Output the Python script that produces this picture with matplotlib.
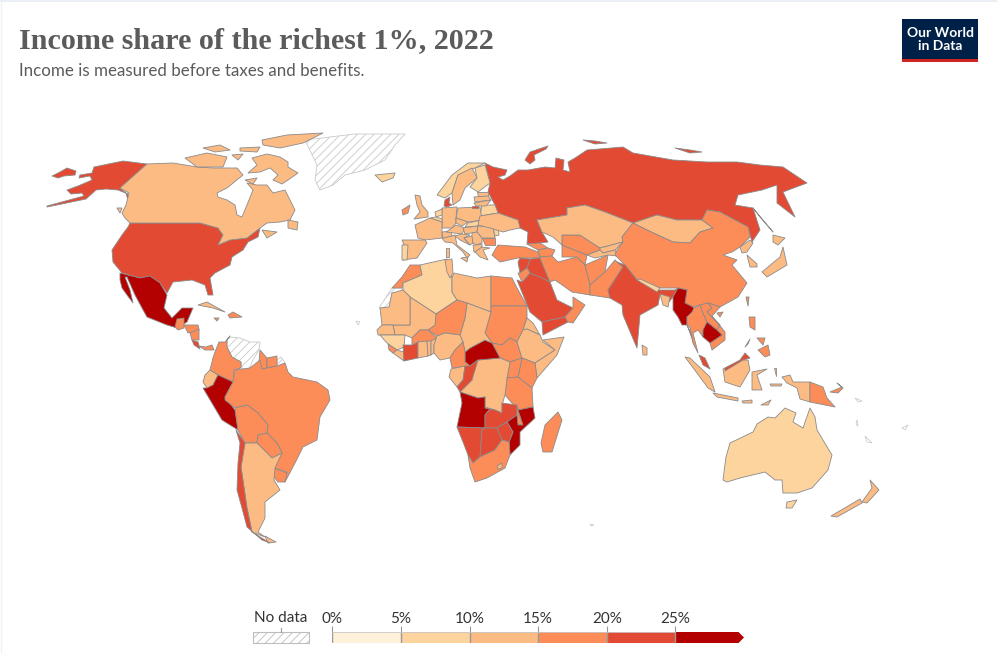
import matplotlib
matplotlib.use("Agg")
import matplotlib.pyplot as plt
import matplotlib.patches as patches
from matplotlib.colors import BoundaryNorm, ListedColormap

plt.rcParams['font.family'] = ['Lato', 'DejaVu Sans']
plt.rcParams['hatch.linewidth'] = 0.6

# income share of the top 1% (estimates inside each bin)
bin_edges = [0, 5, 10, 15, 20, 25, 100]
bin_colors = ['#fef0d9', '#fdd49e', '#fdbb84', '#fc8d59', '#e34a33', '#b30000']
legend_ticks = [0, 5, 10, 15, 20, 25]

shares = {
    'Russia': 21.5, 'Chukotka': 21.5, 'Alaska': 20.8, 'USA': 20.8, 'Canada': 13.5, 'Mexico': 26.8,
    'Guatemala': 16.5, 'Honduras': 16.0, 'Nicaragua': 17.0, 'CostaRica': 21.0, 'Panama': 17.5,
    'Cuba': 13.0, 'Hispaniola': 17.0, 'Jamaica': 16.0,
    'Colombia': 18.0, 'Guyana': 17.0, 'Suriname': 17.0, 'Ecuador': 13.5, 'Peru': 26.5, 'Brazil': 19.5,
    'Uruguay': 16.5, 'Bolivia': 17.0, 'Paraguay': 18.0, 'Argentina': 14.0, 'Chile': 23.5,
    'Iceland': 9.5, 'UK': 12.7, 'Ireland': 15.5, 'Norway': 9.5, 'Sweden': 11.0, 'Finland': 9.8, 'Denmark': 20.5,
    'Belarus': 9.5, 'Poland': 13.0, 'Kaliningrad': 21.5, 'Germany': 12.8, 'Netherlands': 7.5, 'Belgium': 9.5,
    'France': 11.0, 'Spain': 12.0, 'Portugal': 9.8, 'Italy': 11.0, 'Switzerland': 11.5, 'Austria': 10.5,
    'Czechia': 11.0, 'Slovakia': 9.8, 'Hungary': 11.0, 'Romania': 11.5, 'Moldova': 9.0, 'Bulgaria': 16.0,
    'Croatia': 11.0, 'Bosnia': 11.0, 'Serbia': 11.0, 'Albania': 10.5, 'Greece': 11.0, 'Ukraine': 11.0,
    'Estonia': 12.0, 'Latvia': 12.0, 'Lithuania': 12.0, 'Turkey': 18.5, 'Georgia': 17.0, 'Azerbaijan': 18.0,
    'Morocco': 17.0, 'Algeria': 9.5, 'Tunisia': 11.0, 'Libya': 11.0, 'Egypt': 18.0, 'Sudan': 17.0, 'SouthSudan': 18.0,
    'Eritrea': 11.0, 'Ethiopia': 13.5, 'Somalia': 13.0, 'Kenya': 17.0, 'Uganda': 16.0, 'Tanzania': 16.5,
    'DRC': 14.5, 'CAR': 31.0, 'Chad': 14.0, 'Niger': 15.5, 'Mali': 13.0, 'Mauritania': 12.5, 'Senegal': 12.5,
    'Guinea': 9.0, 'SierraLeone': 16.0, 'Liberia': 12.0, 'IvoryCoast': 21.0, 'Burkina': 17.0, 'Ghana': 14.0,
    'Togo': 13.0, 'Benin': 13.0, 'Nigeria': 12.0, 'Cameroon': 17.0, 'Gabon': 13.5, 'Congo': 21.0,
    'Angola': 27.5, 'Zambia': 22.0, 'Malawi': 18.5, 'Mozambique': 26.0, 'Zimbabwe': 21.0, 'Namibia': 21.5,
    'Botswana': 22.0, 'SouthAfrica': 18.5, 'Lesotho': 13.0, 'Madagascar': 17.0,
    'Saudi': 20.8, 'Yemen': 21.5, 'Oman': 18.0, 'Iraq': 21.5, 'Syria': 22.5, 'Jordan': 17.0, 'Iran': 18.0,
    'Afghanistan': 16.0, 'Pakistan': 17.0, 'Turkmenistan': 16.5, 'Uzbekistan': 16.5, 'Kazakhstan': 14.0,
    'Kyrgyzstan': 13.0, 'Tajikistan': 14.0, 'Mongolia': 14.0, 'China': 15.7, 'India': 21.7, 'Nepal': 9.5,
    'Bangladesh': 12.0, 'Myanmar': 28.0, 'Thailand': 17.0, 'Laos': 17.0, 'Vietnam': 17.5, 'Cambodia': 27.0,
    'Malaya': 23.0, 'Sumatra': 13.5, 'Java': 13.5, 'Kalimantan': 13.5, 'Sarawak': 23.0, 'Sulawesi': 13.5,
    'Flores': 13.5, 'Moluccas': 13.5, 'Papua': 13.5, 'PNG': 17.0, 'NewBritain': 18.0, 'Luzon': 17.0, 'Mindanao': 17.0,
    'Palawan': 17.0, 'Taiwan': 17.0, 'Hainan': 16.0, 'SriLanka': 14.0, 'Australia': 9.5, 'Tasmania': 9.5,
    'NZNorth': 12.5, 'NZSouth': 12.5, 'Japan': 12.8, 'NorthKorea': 14.0, 'SouthKorea': 14.0,
}

# outlines in map units (the map is laid out on a 997 x 653 grid)
outlines = {
    'Russia': [
        [(485, 163), (493, 167), (507, 170), (505, 175), (498, 177), (503, 180), (510, 176), (518, 170), (528, 170),
         (545, 167), (555, 168), (556, 158), (564, 160), (563, 170), (570, 172), (568, 162), (575, 158), (587, 150),
         (623, 147), (633, 153), (673, 160), (707, 162), (737, 162), (760, 165), (783, 167), (807, 183),
         (783, 192), (795, 217), (777, 203), (777, 185), (762, 190), (738, 195), (735, 205), (753, 208), (760, 230),
         (752, 242), (748, 227), (720, 212), (707, 210), (702, 220), (677, 220), (657, 215), (633, 223), (605, 212),
         (585, 205), (567, 208), (567, 215), (537, 220), (542, 232), (548, 242), (540, 243), (527, 244), (528, 232), (520, 228),
         (518, 220), (498, 213), (495, 205), (488, 192), (490, 183)],
        [(753, 208), (773, 232), (760, 217)],
        [(525, 160), (530, 152), (548, 146), (546, 149), (534, 155), (535, 160), (530, 164)],
        [(583, 140), (595, 141), (607, 143), (595, 144)],
        [(675, 148), (690, 150), (702, 152), (690, 153)],
    ],
    'Chukotka': [[(52, 176), (60, 172), (67, 168), (76, 171), (75, 175), (64, 176), (58, 178)]],
    'Alaska': [[(147, 164), (123, 161), (94, 167), (92, 173), (80, 175), (79, 178), (90, 176), (92, 180), (78, 186),
                (67, 190), (71, 194), (82, 193), (84, 196), (47, 206), (47, 207), (86, 199), (96, 190), (106, 189), (118, 190),
                (128, 194), (129, 204), (126, 193), (120, 188)]],
    'Canada': [
        [(147, 164), (173, 163), (197, 167), (213, 168), (237, 168), (243, 175), (227, 188), (217, 193), (218, 197),
         (227, 200), (235, 205), (237, 215), (242, 217), (247, 205), (253, 190), (247, 183), (257, 185), (267, 185),
         (273, 193), (285, 190), (295, 210), (290, 220), (280, 222), (267, 223), (260, 228), (247, 238), (230, 240),
         (218, 245), (223, 235), (218, 228), (200, 223), (130, 223), (125, 218), (122, 213), (126, 205), (129, 193),
         (120, 188)],
        [(252, 158), (267, 154), (280, 157), (288, 162), (288, 167), (298, 173), (288, 180), (282, 184), (273, 180),
         (278, 175), (270, 168), (260, 172), (248, 173), (257, 165)],
        [(185, 158), (207, 153), (227, 157), (223, 167), (197, 167)],
        [(262, 140), (287, 135), (323, 133), (303, 143), (280, 148), (263, 145)],
        [(203, 148), (220, 145), (230, 150), (215, 152)],
        [(240, 148), (260, 147), (257, 152), (240, 151)],
        [(245, 180), (257, 178), (253, 184)],
        [(288, 220), (298, 222), (297, 230), (288, 228)],
        [(117, 208), (122, 208), (120, 213)],
        [(262, 230), (277, 232), (267, 238)],
        [(232, 155), (243, 154), (238, 160)],
    ],
    'USA': [[(130, 223), (200, 223), (218, 228), (223, 235), (218, 245), (230, 240), (247, 238), (260, 228), (258, 237),
             (248, 242), (243, 250), (232, 257), (230, 265), (215, 273), (210, 278), (213, 295), (208, 295), (205, 285),
             (192, 280), (173, 282), (167, 293), (160, 283), (150, 276), (140, 278), (122, 273), (113, 262), (112, 250),
             (122, 235), (128, 227)]],
    'Mexico': [[(120, 273), (140, 278), (150, 276), (160, 283), (167, 295), (164, 308), (172, 318), (182, 308), (193, 308),
                (187, 322), (177, 328), (167, 325), (147, 317), (142, 308), (135, 295), (127, 277), (125, 277), (130, 290),
                (133, 303), (127, 295), (122, 288), (120, 280)]],
    'Guatemala': [[(177, 319), (184, 318), (184, 328), (178, 330), (175, 327)]],
    'Honduras': [[(184, 325), (198, 325), (199, 330), (188, 333)]],
    'Nicaragua': [[(190, 333), (199, 329), (199, 340), (192, 340)]],
    'CostaRica': [[(192, 340), (198, 342), (200, 349), (194, 345)]],
    'Panama': [[(199, 346), (206, 347), (212, 345), (214, 350), (205, 350)]],
    'Cuba': [[(198, 305), (207, 302), (225, 312), (213, 308)]],
    'Hispaniola': [[(228, 315), (233, 312), (242, 317), (230, 318)]],
    'Jamaica': [[(214, 318), (219, 318), (217, 321)]],
    'Colombia': [[(230, 336), (225, 342), (219, 342), (215, 352), (213, 358), (210, 370), (218, 375), (233, 382), (234, 370),
                  (241, 368), (241, 362), (232, 357), (227, 347), (227, 340)]],
    'Guyana': [[(260, 350), (267, 358), (267, 368), (262, 369), (259, 362)]],
    'Suriname': [[(267, 358), (277, 356), (277, 366), (267, 368)]],
    'Ecuador': [[(205, 375), (210, 370), (218, 375), (213, 385), (207, 388), (203, 382)]],
    'Peru': [[(218, 375), (233, 382), (225, 397), (235, 410), (238, 430), (222, 420), (203, 388), (207, 388), (213, 385)]],
    'Brazil': [[(233, 382), (235, 370), (250, 368), (260, 360), (262, 369), (277, 366), (285, 363), (288, 372), (293, 377), (317, 382),
                (328, 390), (330, 400), (320, 417), (317, 440), (303, 447), (295, 463), (285, 482), (275, 478), (287, 472),
                (274, 468), (282, 453), (277, 443), (267, 433), (268, 425), (258, 413), (247, 405), (235, 408), (225, 400),
                (225, 397)]],
    'Uruguay': [[(274, 468), (287, 473), (285, 482), (278, 482), (274, 477)]],
    'Bolivia': [[(235, 408), (247, 405), (258, 413), (268, 425), (267, 433), (258, 435), (257, 443), (245, 443), (238, 430)]],
    'Paraguay': [[(258, 435), (267, 433), (277, 443), (282, 453), (272, 458), (257, 443)]],
    'Argentina': [[(245, 443), (257, 443), (272, 458), (282, 453), (275, 468), (274, 480), (280, 490), (265, 502), (265, 518),
                   (258, 532), (265, 537), (252, 532), (247, 508), (241, 467)],
                  [(265, 536), (276, 542), (268, 543)]],
    'Chile': [[(236, 430), (245, 443), (241, 467), (247, 508), (252, 532), (270, 543), (262, 540), (247, 527), (242, 508),
               (237, 490), (238, 463), (240, 443)]],
    'Iceland': [[(375, 175), (395, 173), (393, 178), (382, 182)]],
    'UK': [[(415, 195), (420, 196), (422, 205), (428, 212), (428, 217), (414, 219), (420, 212), (417, 205)]],
    'Ireland': [[(402, 210), (410, 205), (408, 213), (403, 215)]],
    'Norway': [[(437, 195), (452, 175), (468, 163), (485, 163), (475, 168), (458, 175), (452, 193), (445, 198)]],
    'Sweden': [[(452, 193), (458, 175), (472, 168), (477, 178), (465, 188), (460, 200), (453, 205)]],
    'Finland': [[(475, 168), (485, 165), (490, 183), (478, 192), (470, 187), (477, 178)]],
    'Denmark': [[(444, 206), (445, 200), (450, 197), (449, 203), (452, 205), (447, 207)]],
    'Belarus': [[(482, 205), (495, 205), (498, 213), (480, 216)]],
    'Poland': [[(458, 208), (480, 207), (482, 220), (468, 222), (456, 218)]],
    'Kaliningrad': [[(472, 206), (478, 206), (478, 208), (472, 208)]],
    'Germany': [[(442, 208), (457, 207), (456, 218), (456, 223), (452, 228), (442, 228)]],
    'Netherlands': [[(435, 212), (442, 209), (442, 215), (436, 217)]],
    'Belgium': [[(430, 218), (436, 217), (442, 219), (442, 222)]],
    'France': [[(415, 225), (430, 218), (442, 222), (442, 238), (425, 240), (418, 238)]],
    'Spain': [[(402, 240), (425, 240), (427, 243), (417, 258), (403, 260), (405, 247)]],
    'Portugal': [[(402, 245), (408, 245), (407, 260), (402, 260)]],
    'Italy': [[(442, 238), (455, 235), (457, 245), (470, 255), (467, 258), (463, 252), (453, 243), (445, 242)],
              [(461, 258), (468, 257), (467, 262)], [(446, 248), (449, 248), (449, 257), (446, 257)]],
    'Switzerland': [[(442, 232), (451, 231), (452, 236), (443, 238)]],
    'Austria': [[(446, 232), (452, 228), (456, 225), (465, 228), (462, 234)]],
    'Czechia': [[(456, 218), (468, 222), (462, 226), (456, 223)]],
    'Slovakia': [[(468, 223), (482, 220), (478, 226), (465, 227)]],
    'Hungary': [[(463, 228), (478, 226), (477, 232), (465, 234)]],
    'Romania': [[(478, 226), (493, 227), (495, 238), (482, 238), (477, 232)]],
    'Moldova': [[(493, 227), (498, 227), (499, 235), (495, 236)]],
    'Bulgaria': [[(482, 238), (495, 238), (495, 245), (485, 245)]],
    'Croatia': [[(455, 236), (462, 234), (470, 235), (464, 238), (470, 245), (460, 240)]],
    'Bosnia': [[(464, 238), (472, 236), (473, 243), (470, 245)]],
    'Serbia': [[(472, 233), (477, 232), (482, 238), (482, 243), (476, 245), (473, 243), (472, 236)]],
    'Albania': [[(473, 245), (476, 245), (482, 244), (482, 247), (476, 252), (474, 252)]],
    'Greece': [[(475, 252), (482, 247), (490, 248), (483, 250), (488, 260), (480, 257)]],
    'Ukraine': [[(480, 216), (498, 213), (518, 220), (520, 228), (510, 230), (503, 232), (490, 228), (478, 225)]],
    'Estonia': [[(477, 192), (488, 192), (488, 196), (478, 196)]],
    'Latvia': [[(474, 197), (488, 196), (491, 200), (475, 202)]],
    'Lithuania': [[(474, 203), (491, 200), (486, 206), (476, 206)]],
    'Turkey': [[(492, 255), (498, 245), (525, 247), (538, 252), (540, 258), (518, 258), (500, 262)]],
    'Georgia': [[(527, 244), (540, 243), (548, 248), (538, 250)]],
    'Azerbaijan': [[(538, 250), (548, 248), (555, 250), (552, 256), (540, 257)]],
    'Morocco': [[(392, 288), (402, 277), (410, 265), (420, 265), (422, 275), (403, 283), (402, 288)]],
    'Algeria': [[(403, 283), (422, 275), (420, 265), (447, 259), (452, 278), (452, 292), (457, 300), (436, 314), (410, 297), (403, 290)]],
    'Tunisia': [[(445, 260), (452, 259), (453, 273), (450, 278), (447, 272)]],
    'Libya': [[(452, 278), (454, 273), (477, 278), (491, 276), (491, 312), (467, 303), (457, 300), (452, 292)]],
    'Egypt': [[(491, 276), (512, 278), (517, 288), (527, 306), (491, 306)]],
    'Sudan': [[(491, 306), (527, 306), (527, 318), (523, 330), (517, 342), (510, 338), (502, 345), (492, 343), (485, 333), (491, 312)]],
    'SouthSudan': [[(492, 343), (502, 345), (510, 338), (517, 342), (522, 358), (510, 362), (500, 358)]],
    'Eritrea': [[(527, 318), (533, 323), (540, 335), (527, 329), (523, 330)]],
    'Ethiopia': [[(523, 330), (527, 329), (540, 335), (543, 342), (555, 350), (535, 363), (522, 358), (517, 342)]],
    'Somalia': [[(543, 340), (564, 337), (557, 355), (537, 378), (535, 363), (555, 350)]],
    'Kenya': [[(522, 358), (535, 363), (537, 378), (532, 388), (518, 377)]],
    'Uganda': [[(510, 362), (522, 358), (518, 377), (507, 378)]],
    'Tanzania': [[(507, 378), (518, 377), (532, 388), (533, 407), (518, 410), (505, 395)]],
    'DRC': [[(470, 366), (478, 360), (500, 358), (510, 362), (507, 378), (505, 395), (502, 405), (502, 413), (495, 410), (485, 407), (485, 397), (478, 398), (460, 392), (472, 380)]],
    'CAR': [[(465, 352), (470, 348), (485, 340), (492, 343), (500, 358), (478, 360), (470, 366), (465, 362)]],
    'Chad': [[(467, 303), (491, 312), (485, 333), (492, 343), (485, 340), (470, 348), (465, 352), (463, 342), (460, 335), (465, 318)]],
    'Niger': [[(457, 300), (467, 303), (465, 318), (460, 335), (445, 333), (437, 336), (428, 330), (435, 325), (436, 314)]],
    'Mali': [[(410, 297), (436, 314), (435, 325), (428, 330), (420, 330), (412, 338), (405, 335), (395, 335), (393, 325), (410, 325)]],
    'Mauritania': [[(389, 307), (392, 293), (403, 290), (410, 297), (410, 325), (382, 325), (380, 308)]],
    'Senegal': [[(382, 325), (393, 325), (395, 335), (378, 335), (377, 330)]],
    'Guinea': [[(380, 335), (395, 335), (405, 335), (404, 347), (397, 350), (391, 346), (386, 342)]],
    'SierraLeone': [[(388, 344), (391, 346), (397, 350), (393, 353), (389, 350)]],
    'Liberia': [[(397, 350), (404, 352), (404, 361), (393, 353)]],
    'IvoryCoast': [[(403, 345), (412, 345), (418, 342), (418, 358), (404, 361)]],
    'Burkina': [[(412, 338), (420, 330), (428, 330), (437, 338), (430, 342), (418, 342), (412, 345)]],
    'Ghana': [[(418, 342), (427, 341), (428, 356), (418, 358)]],
    'Togo': [[(427, 341), (431, 341), (431, 355), (428, 356)]],
    'Benin': [[(431, 341), (437, 338), (434, 345), (434, 353), (431, 355)]],
    'Nigeria': [[(437, 336), (445, 333), (460, 335), (463, 342), (455, 350), (450, 358), (440, 360), (434, 353), (434, 345)]],
    'Cameroon': [[(463, 342), (465, 352), (465, 362), (470, 366), (452, 368), (450, 358), (455, 350)]],
    'Gabon': [[(451, 369), (465, 366), (463, 380), (457, 387), (449, 377)]],
    'Congo': [[(465, 366), (470, 366), (478, 360), (472, 380), (460, 392), (457, 387), (463, 380)]],
    'Angola': [[(460, 392), (478, 398), (485, 397), (485, 408), (490, 409), (485, 415), (485, 428), (457, 427), (462, 403)]],
    'Zambia': [[(485, 415), (490, 409), (495, 410), (502, 413), (502, 403), (517, 405), (517, 415), (507, 422), (497, 428), (485, 428)]],
    'Malawi': [[(517, 405), (520, 418), (523, 425), (518, 425), (517, 415)]],
    'Mozambique': [[(518, 410), (533, 407), (535, 418), (520, 432), (520, 445), (510, 455), (509, 442), (513, 432), (507, 422), (517, 415), (518, 425), (523, 425)]],
    'Zimbabwe': [[(497, 428), (507, 422), (513, 432), (509, 442), (502, 440)]],
    'Namibia': [[(457, 427), (485, 428), (482, 430), (480, 457), (473, 463), (468, 455), (463, 442)]],
    'Botswana': [[(482, 430), (485, 428), (497, 428), (502, 440), (495, 450), (480, 457)]],
    'SouthAfrica': [[(480, 457), (495, 450), (502, 440), (509, 442), (510, 455), (505, 468), (487, 478), (475, 482), (470, 468), (468, 455), (473, 463)]],
    'Lesotho': [[(497, 466), (502, 463), (502, 468), (498, 469)]],
    'Madagascar': [[(558, 412), (562, 420), (552, 452), (543, 452), (541, 443), (545, 425)]],
    'Saudi': [[(517, 280), (522, 282), (530, 273), (540, 277), (550, 282), (557, 300), (573, 308), (565, 317), (542, 322), (530, 312)]],
    'Yemen': [[(542, 322), (565, 317), (568, 322), (543, 335)]],
    'Oman': [[(573, 297), (585, 305), (573, 323), (568, 322), (565, 317), (573, 308)]],
    'Iraq': [[(530, 259), (540, 258), (550, 282), (540, 277), (530, 273), (527, 268)]],
    'Syria': [[(518, 262), (520, 258), (530, 259), (527, 268), (520, 273)]],
    'Jordan': [[(518, 273), (520, 273), (527, 268), (530, 273), (522, 282)]],
    'Iran': [[(540, 257), (552, 256), (558, 262), (577, 257), (585, 265), (590, 285), (590, 295), (572, 292), (555, 280), (550, 282), (540, 258)]],
    'Afghanistan': [[(585, 265), (608, 255), (605, 272), (590, 285)]],
    'Pakistan': [[(590, 285), (605, 272), (615, 260), (623, 267), (608, 290), (610, 298), (590, 295)]],
    'Turkmenistan': [[(562, 257), (562, 245), (587, 255), (585, 265), (577, 257)]],
    'Uzbekistan': [[(562, 235), (580, 235), (600, 248), (600, 250), (587, 255), (562, 245)]],
    'Kazakhstan': [[(537, 220), (567, 215), (567, 208), (585, 205), (605, 212), (633, 223), (622, 237), (623, 242), (600, 248), (580, 235), (562, 235), (562, 245), (553, 237), (542, 232)]],
    'Kyrgyzstan': [[(600, 248), (623, 242), (615, 250), (603, 253), (600, 250)]],
    'Tajikistan': [[(587, 255), (600, 250), (603, 253), (615, 250), (617, 256), (608, 255), (595, 258)]],
    'Mongolia': [[(633, 223), (657, 215), (677, 220), (702, 220), (713, 228), (700, 232), (690, 243), (673, 242), (662, 237), (647, 230)]],
    'China': [[(633, 223), (647, 230), (662, 237), (673, 242), (690, 243), (700, 232), (713, 228), (702, 220), (707, 210), (720, 212), (748, 227), (750, 237), (740, 247), (732, 252), (723, 255), (737, 260), (732, 265), (747, 283), (738, 297), (720, 307), (708, 303), (700, 305), (693, 307), (685, 303), (687, 290), (678, 288), (660, 288), (637, 280), (625, 265), (615, 255), (617, 250), (623, 242), (622, 237)]],
    'India': [[(617, 262), (625, 265), (637, 280), (658, 290), (675, 290), (678, 288), (673, 297), (668, 303), (660, 295), (658, 305), (640, 315), (637, 348), (623, 315), (622, 305), (610, 298), (608, 290), (623, 267)]],
    'Nepal': [[(637, 280), (640, 279), (660, 288), (657, 292)]],
    'Bangladesh': [[(660, 294), (670, 297), (668, 307), (663, 305)]],
    'Myanmar': [[(678, 288), (687, 290), (685, 303), (693, 307), (695, 312), (687, 317), (687, 325), (693, 337), (695, 347), (690, 333), (687, 325), (682, 325), (678, 317), (673, 310), (673, 297)]],
    'Thailand': [[(694, 308), (700, 305), (703, 313), (707, 322), (703, 330), (703, 337), (698, 330), (693, 333), (698, 353), (693, 343), (690, 327), (687, 325), (687, 317), (692, 312)]],
    'Laos': [[(700, 305), (708, 303), (712, 308), (707, 312), (720, 325), (717, 330), (707, 322), (703, 313)]],
    'Vietnam': [[(708, 303), (720, 307), (712, 316), (725, 332), (725, 340), (712, 350), (710, 343), (722, 335), (717, 330), (720, 325), (707, 312), (712, 308)]],
    'Cambodia': [[(703, 330), (707, 322), (717, 330), (722, 335), (710, 343), (703, 337)]],
    'Malaya': [[(699, 355), (705, 358), (710, 369), (703, 365)]],
    'Sumatra': [[(685, 357), (690, 358), (710, 377), (715, 392), (708, 388), (697, 373)]],
    'Java': [[(713, 393), (738, 398), (738, 401), (717, 397)]],
    'Kalimantan': [[(723, 369), (743, 360), (748, 360), (750, 370), (740, 387), (725, 382)]],
    'Sarawak': [[(725, 368), (740, 360), (745, 353), (750, 358), (743, 360), (725, 371)]],
    'Sulawesi': [[(752, 372), (767, 369), (757, 375), (762, 390), (752, 390)]],
    'Flores': [[(742, 401), (752, 400), (752, 403), (743, 403)], [(761, 405), (771, 400), (768, 405)]],
    'Moluccas': [[(770, 384), (782, 384), (781, 386), (771, 386)], [(774, 368), (776, 368), (776, 376)]],
    'Papua': [[(782, 377), (790, 375), (793, 382), (810, 382), (810, 402), (800, 399), (797, 388), (787, 383)]],
    'PNG': [[(810, 382), (823, 387), (827, 398), (835, 407), (810, 402)]],
    'NewBritain': [[(830, 392), (842, 387), (837, 383), (843, 388), (838, 393)]],
    'Luzon': [[(749, 317), (755, 317), (755, 330), (750, 327)]],
    'Mindanao': [[(758, 350), (768, 345), (770, 355), (765, 357)], [(757, 338), (765, 338), (763, 345)]],
    'Palawan': [[(745, 347), (750, 339), (748, 344)]],
    'Taiwan': [[(746, 297), (749, 297), (748, 306)]],
    'Hainan': [[(717, 313), (723, 312), (720, 317)]],
    'SriLanka': [[(642, 345), (647, 348), (647, 355), (643, 355)]],
    'Australia': [[(723, 480), (726, 457), (730, 443), (753, 432), (757, 424), (768, 417), (775, 418), (785, 408), (796, 413), (793, 422), (803, 428), (810, 408), (815, 417), (817, 430), (832, 455), (828, 470), (812, 488), (797, 493), (783, 493), (782, 480), (775, 480), (765, 472), (740, 478), (727, 482)]],
    'Tasmania': [[(787, 502), (797, 500), (792, 508), (786, 508)]],
    'NZNorth': [[(870, 480), (879, 490), (867, 503), (862, 502), (872, 488)]],
    'NZSouth': [[(860, 499), (862, 503), (837, 517), (831, 516)]],
    'Japan': [[(783, 247), (787, 265), (767, 277), (762, 272), (780, 257)], [(773, 235), (785, 238), (778, 245), (773, 242)]],
    'NorthKorea': [[(740, 247), (750, 240), (753, 243), (747, 252), (742, 253)]],
    'SouthKorea': [[(747, 255), (757, 264), (757, 267), (750, 267)]],
}

no_data_outlines = [
    [(305, 140), (330, 137), (355, 134), (405, 134), (395, 145), (385, 160), (365, 170), (345, 175), (333, 185), (320, 190), (315, 180), (317, 165)],
    [(379, 308), (392, 288), (402, 288), (403, 292), (392, 293), (389, 307)],
    [(227, 340), (230, 337), (240, 338), (250, 342), (260, 342), (259, 350), (253, 360), (248, 372), (242, 368), (241, 362), (232, 357), (227, 347)],
    [(277, 360), (281, 357), (285, 363), (277, 367)],
]
tiny_islands = [
    [(865, 436), (872, 443), (867, 442)],
    [(857, 420), (858, 426), (856, 424)],
    [(902, 428), (908, 425), (905, 430)],
    [(855, 398), (862, 401), (858, 402)],
    [(590, 524), (594, 525), (591, 526)],
    [(356, 321), (360, 322), (358, 325)],
]

cmap = ListedColormap(bin_colors)
norm = BoundaryNorm(bin_edges, cmap.N)
border = '#8a8a8a'

fig = plt.figure(figsize=(9.97, 6.53), dpi=100)
ax = fig.add_axes([0, 0, 1, 1])
ax.set_xlim(0, 997)
ax.set_ylim(653, 0)
ax.axis('off')

for ring in no_data_outlines:
    ax.add_patch(patches.Polygon(ring, facecolor='white', edgecolor='#c9c9c9', linewidth=0.6, hatch='////'))
for ring in tiny_islands:
    ax.add_patch(patches.Polygon(ring, facecolor='white', edgecolor='#c4c4c4', linewidth=0.5))

for name, share in shares.items():
    for ring in outlines[name]:
        ax.add_patch(patches.Polygon(ring, facecolor=cmap(norm(share)), edgecolor=border, linewidth=0.6, joinstyle='round'))

# header
ax.text(19, 48, 'Income share of the richest 1%, 2022', family='Liberation Serif', weight='bold',
        fontsize=21.7, color='#5b5b5b')
ax.text(19, 76, 'Income is measured before taxes and benefits.', fontsize=12.2, color='#5b5b5b')

# logo
ax.add_patch(patches.Rectangle((902, 19), 76, 43, facecolor='#002147', edgecolor='none'))
ax.add_patch(patches.Rectangle((902, 59), 76, 3, facecolor='#ce261e', edgecolor='none'))
ax.text(940, 39.5, 'Our World\nin Data', color='white', fontsize=10, weight='bold', ha='center', va='center', linespacing=1.15)

# legend
leg = fig.add_axes([332.3 / 997, 1 - 643 / 653, 411.7 / 997, 11 / 653])
leg.set_xlim(0, 30)
leg.set_ylim(0, 1)
leg.patch.set_visible(False)
for s in leg.spines.values():
    s.set_visible(False)
leg.set_yticks([])
for i in range(5):
    leg.barh(0.5, bin_edges[i + 1] - bin_edges[i], left=bin_edges[i], height=1, color=bin_colors[i], edgecolor='none')
leg.add_patch(patches.Polygon([(25, 0), (29.6, 0), (30, 0.5), (29.6, 1), (25, 1)], facecolor=bin_colors[5], edgecolor='none', clip_on=False))
leg.vlines(legend_ticks, 0, 1, color='#999999', linewidth=1)
leg.hlines([0, 1], 0, 25, color='#c8c8c8', linewidth=0.6)
leg.set_xticks(legend_ticks)
leg.set_xticklabels([f'{t}%' for t in legend_ticks], fontsize=11, color='#333333')
leg.tick_params(axis='x', bottom=False, top=True, labelbottom=False, labeltop=True, length=4, width=0.8, color='#999999', pad=0.5)

ax.add_patch(patches.Rectangle((253, 632), 56, 11, facecolor='white', edgecolor='#bdbdbd', linewidth=0.8, hatch='////'))
ax.plot([281, 281], [628, 632], color='#999999', linewidth=0.8)
ax.text(281, 618, 'No data', fontsize=11, color='#333333', ha='center', va='center')

# faint page edge
ax.plot([0, 997], [0.5, 0.5], color='#e8ecf3', linewidth=1.2)
ax.plot([0.5, 0.5], [0, 653], color='#eef1f6', linewidth=1.0)

fig.savefig('out.png', dpi=100)
